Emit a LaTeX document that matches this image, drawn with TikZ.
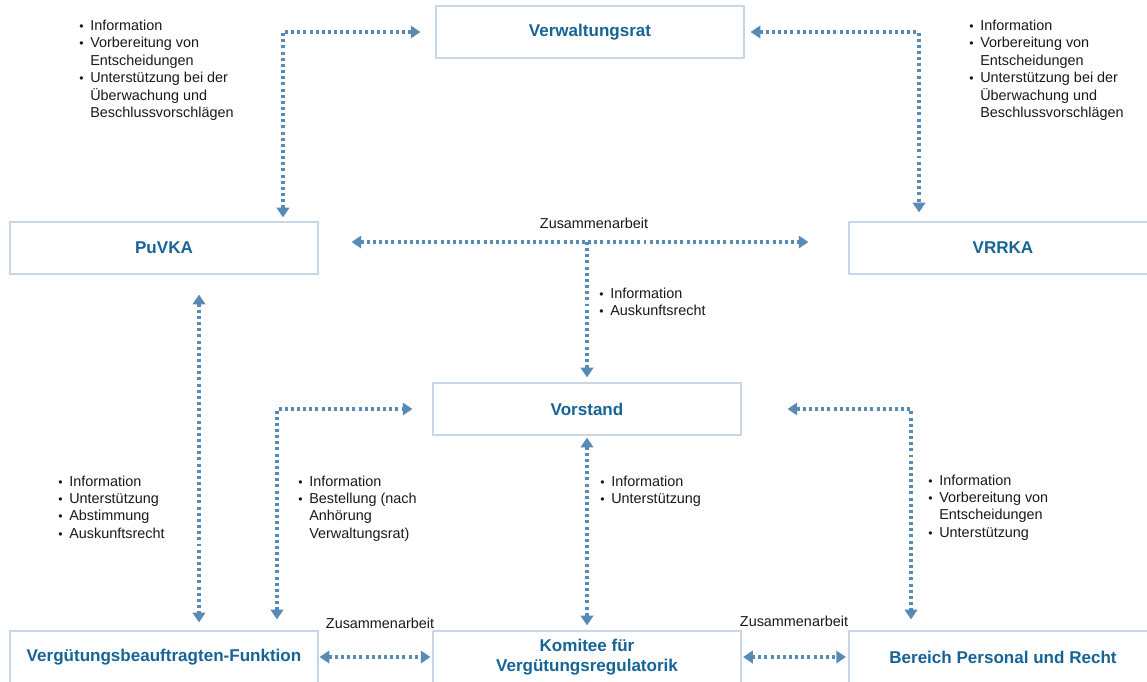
\documentclass[tikz,border=0pt]{standalone}
\usepackage{fontspec}
\setmainfont{Liberation Sans}
\usetikzlibrary{arrows.meta}

\definecolor{boxline}{RGB}{200,214,229}
\definecolor{titleblue}{RGB}{22,100,150}
\definecolor{linkblue}{RGB}{88,138,182}
\definecolor{txtgray}{RGB}{25,25,25}

% bullet list in a node
\newcommand{\bitems}[1]{\begin{tabular}[t]{@{}l@{\hspace{3.8pt}}l@{}}#1\end{tabular}}
\newcommand{\bi}{\scalebox{0.85}{\textbullet}}

\begin{document}
\begin{tikzpicture}[
    x=0.02cm, y=-0.02cm,
    box/.style={rectangle, draw=boxline, line width=0.7pt, minimum width=6.16cm, minimum height=1.04cm, inner sep=0pt, align=center, text=titleblue, font=\fontsize{9.7}{11.3}\selectfont\bfseries},
    link/.style={linkblue, line width=2pt, dash pattern=on 1.7pt off 1.8pt, {Triangle[length=5.5pt,width=7pt]}-{Triangle[length=5.5pt,width=7pt]}},
    linkone/.style={link, -{Triangle[length=5.5pt,width=7pt]}},
    note/.style={font=\fontsize{8.2}{9.9}\selectfont, text=txtgray, inner sep=0pt},
    list/.style={note, anchor=base west}
]
\useasboundingbox (0,0) rectangle (1147,681);
\clip (0,0) rectangle (1147,681);

% Nodes
\node[box] (vr) at (590,32) {Verwaltungsrat};
\node[box] (puvka) at (164,248) {PuVKA};
\node[box] (vrrka) at (1003,248) {VRRKA};
\node[box] (vst) at (587,409) {Vorstand};
\node[box] (vbf) at (164,657) {Vergütungsbeauftragten-Funktion};
\node[box] (kom) at (587,657) {Komitee für\\Vergütungsregulatorik};
\node[box] (ber) at (1003,657) {Bereich Personal und Recht};

% Bullet lists
\node[list] (listtl) at (79,30.5) {\bitems{\bi & Information\\ \bi & Vorbereitung von\\ & Entscheidungen\\ \bi & Unterstützung bei der\\ & Überwachung und\\ & Beschlussvorschlägen}};
\node[list] (listtr) at (969,30.5) {\bitems{\bi & Information\\ \bi & Vorbereitung von\\ & Entscheidungen\\ \bi & Unterstützung bei der\\ & Überwachung und\\ & Beschlussvorschlägen}};
\node[list] (listmid) at (599,298) {\bitems{\bi & Information\\ \bi & Auskunftsrecht}};
\node[list] (listl) at (58,486) {\bitems{\bi & Information\\ \bi & Unterstützung\\ \bi & Abstimmung\\ \bi & Auskunftsrecht}};
\node[list] (listml) at (298,486) {\bitems{\bi & Information\\ \bi & Bestellung (nach\\ & Anhörung\\ & Verwaltungsrat)}};
\node[list] (listc) at (600,486) {\bitems{\bi & Information\\ \bi & Unterstützung}};
\node[list] (listr) at (928,485) {\bitems{\bi & Information\\ \bi & Vorbereitung von\\ & Entscheidungen\\ \bi & Unterstützung}};

% Labels
\node[note] (zusa) at (594,223) {Zusammenarbeit};
\node[note] (zusb) at (380,623) {Zusammenarbeit};
\node[note] (zusc) at (794,621) {Zusammenarbeit};
\coordinate (split) at (587,242);

% Arrows
\draw[link, shorten <=0.08cm, shorten >=0.3cm] ([xshift=2.38cm]puvka.north) |- (vr.west);
\draw[link, shorten <=0.12cm, shorten >=0.18cm] (vr.east) -| ([xshift=-1.68cm]vrrka.north);
\draw[link, shorten <=0.66cm, shorten >=0.8cm] ([yshift=0.12cm]puvka.east) -- ([yshift=0.12cm]vrrka.west);
\draw[linkone, shorten >=0.1cm] (split) -- (vst.north);
\draw[link, shorten <=0.4cm, shorten >=0.16cm] ([xshift=0.7cm]puvka.south) -- ([xshift=0.7cm]vbf.north);
\draw[link, shorten <=0.22cm, shorten >=0.4cm] ([xshift=2.26cm]vbf.north) |- (vst.west);
\draw[link, shorten <=0.04cm, shorten >=0.1cm] (vst.south) -- (kom.north);
\draw[link, shorten <=0.92cm, shorten >=0.22cm] (vst.east) -| ([xshift=-1.84cm]ber.north);
\draw[link, shorten <=0.02cm, shorten >=0.04cm] (vbf.east) -- (kom.west);
\draw[link, shorten <=0.03cm, shorten >=0.05cm] (kom.east) -- (ber.west);

\end{tikzpicture}
\end{document}
